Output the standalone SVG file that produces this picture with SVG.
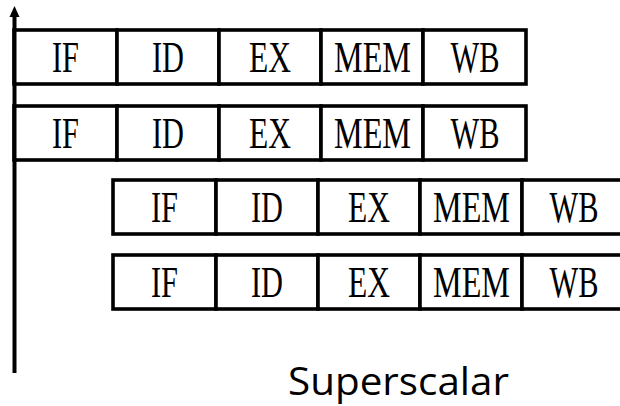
<svg xmlns="http://www.w3.org/2000/svg" width="620" height="406" viewBox="0 0 620 406">
  <style>
    .cell { fill: #ffffff; stroke: #000000; stroke-width: 3.6; }
    .stage { font-family: "Liberation Serif", "Times New Roman", serif; font-size: 44px; fill: #000000; text-anchor: middle; }
    .axis { stroke: #000000; stroke-width: 4; fill: none; }
    .caption { font-family: "Open Sans", "Noto Sans", sans-serif; font-size: 39px; fill: #000000; }
  </style>
  <defs>
    <!-- one pipeline row: five stage cells of about 102px each -->
    <g id="pipeRow">
      <rect class="cell" x="0" y="0" width="103" height="54"/>
      <rect class="cell" x="103" y="0" width="102" height="54"/>
      <rect class="cell" x="205" y="0" width="102" height="54"/>
      <rect class="cell" x="307" y="0" width="102" height="54"/>
      <rect class="cell" x="409" y="0" width="103" height="54"/>
      <text class="stage" x="51.5" y="42" textLength="27" lengthAdjust="spacingAndGlyphs">IF</text>
      <text class="stage" x="154" y="42" textLength="32" lengthAdjust="spacingAndGlyphs">ID</text>
      <text class="stage" x="256" y="42" textLength="42" lengthAdjust="spacingAndGlyphs">EX</text>
      <text class="stage" x="358.5" y="42" textLength="77" lengthAdjust="spacingAndGlyphs">MEM</text>
      <text class="stage" x="461" y="42" textLength="49" lengthAdjust="spacingAndGlyphs">WB</text>
    </g>
  </defs>

  <g id="instr1"><use href="#pipeRow" x="14" y="30"/></g>
  <g id="instr2"><use href="#pipeRow" x="14" y="106"/></g>
  <g id="instr3"><use href="#pipeRow" x="113" y="180"/></g>
  <g id="instr4"><use href="#pipeRow" x="113" y="255"/></g>

  <g id="connectors">
    <!-- time axis with its arrowhead -->
    <path class="axis" d="M14.5,373 L14.5,15"/>
    <path d="M14.5,6 L19.5,17 L9.5,17 Z" fill="#000000"/>
  </g>

  <g id="caption">
    <text class="caption" x="288" y="395" textLength="221" lengthAdjust="spacingAndGlyphs">Superscalar</text>
  </g>
</svg>
